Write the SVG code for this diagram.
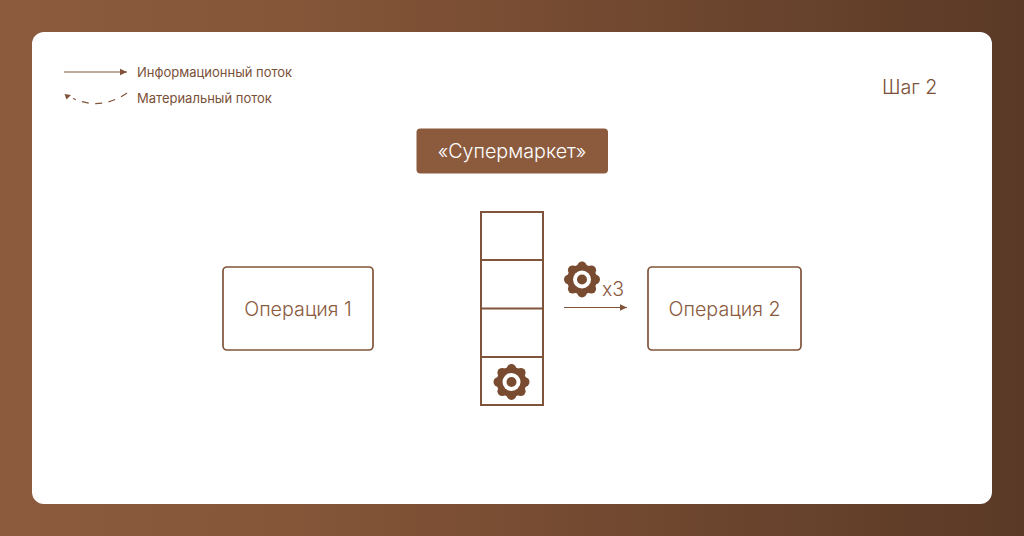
<svg xmlns="http://www.w3.org/2000/svg" width="1024" height="536" viewBox="0 0 1024 536">
<style>
text{font-family:Inter,"Liberation Sans",sans-serif;fill:#7b5038;font-weight:300}
.legend{font-size:13px;fill:#7a5138;font-weight:400}
.big{font-size:19.700px;fill:#8a5a3e}
.box{fill:#fff;stroke:#80543a;stroke-width:1.700}
.line{fill:none;stroke:#80543a;stroke-width:1.200}
.cell{fill:none;stroke:#80543b;stroke-width:2}
</style>
<defs>
<linearGradient id="bg" x1="0" y1="0" x2="1" y2="0">
<stop offset="0" stop-color="#8c5b3e"/><stop offset="0.25" stop-color="#875739"/><stop offset="1" stop-color="#5a3926"/>
</linearGradient>
<marker id="arrow" markerWidth="8" markerHeight="8" refX="7" refY="4" orient="auto" markerUnits="userSpaceOnUse">
<path d="M0 0.800L7 4L0 7.200z" fill="#80543a"/>
</marker>
<g id="gear">
<g fill="#794c31">
<circle r="15"/>
<circle cx="0" cy="-13.200" r="4.800"/><circle cx="0" cy="13.200" r="4.800"/><circle cx="-13.200" cy="0" r="4.800"/><circle cx="13.200" cy="0" r="4.800"/>
<circle cx="9.300" cy="-9.300" r="4.800"/><circle cx="-9.300" cy="-9.300" r="4.800"/><circle cx="9.300" cy="9.300" r="4.800"/><circle cx="-9.300" cy="9.300" r="4.800"/>
</g>
<circle r="9" fill="#fff"/><circle r="5" fill="#794c31"/>
</g>
</defs>
<rect width="1024" height="536" fill="url(#bg)"/>
<rect x="32" y="32" width="960" height="472" rx="12" fill="#fff"/>
<g id="connectors">
<path class="line" d="M64 72H127" marker-end="url(#arrow)"/>
<path class="line" d="M127 93C108 106 90 106 73 98.500" stroke-dasharray="7 6.500"/>
<path d="M64.500 94L71 95L66.500 99.500z" fill="#80543a"/>
<path class="line" d="M564 307.500H627" marker-end="url(#arrow)"/>
</g>
<g id="legend">
<text class="legend" x="137" y="77">Информационный поток</text>
<text class="legend" x="137" y="103">Материальный поток</text>
</g>
<g id="step"><text x="882" y="94" style="font-size:19.700px;fill:#7b5038">Шаг 2</text></g>
<g id="supermarket">
<rect x="416.500" y="128.500" width="191.500" height="45" rx="4" fill="#8c5b3e"/>
<text x="512" y="157.500" text-anchor="middle" style="font-size:19.700px;fill:#fff">«Супермаркет»</text>
</g>
<g id="op1">
<rect class="box" x="223" y="267" width="150" height="83" rx="4"/>
<text class="big" x="298" y="316" text-anchor="middle">Операция 1</text>
</g>
<g id="stack">
<rect class="cell" x="481" y="212" width="62" height="193"/>
<path class="cell" d="M481 260H543M481 308.500H543M481 357H543"/>
<use href="#gear" x="511.500" y="382"/>
</g>
<g id="parts">
<use href="#gear" x="582" y="279.500"/>
<text x="602" y="296" style="font-size:19.500px;fill:#8a5a3e">x3</text>
</g>
<g id="op2">
<rect class="box" x="648" y="267" width="153" height="83" rx="4"/>
<text class="big" x="724.500" y="316" text-anchor="middle">Операция 2</text>
</g>
</svg>
